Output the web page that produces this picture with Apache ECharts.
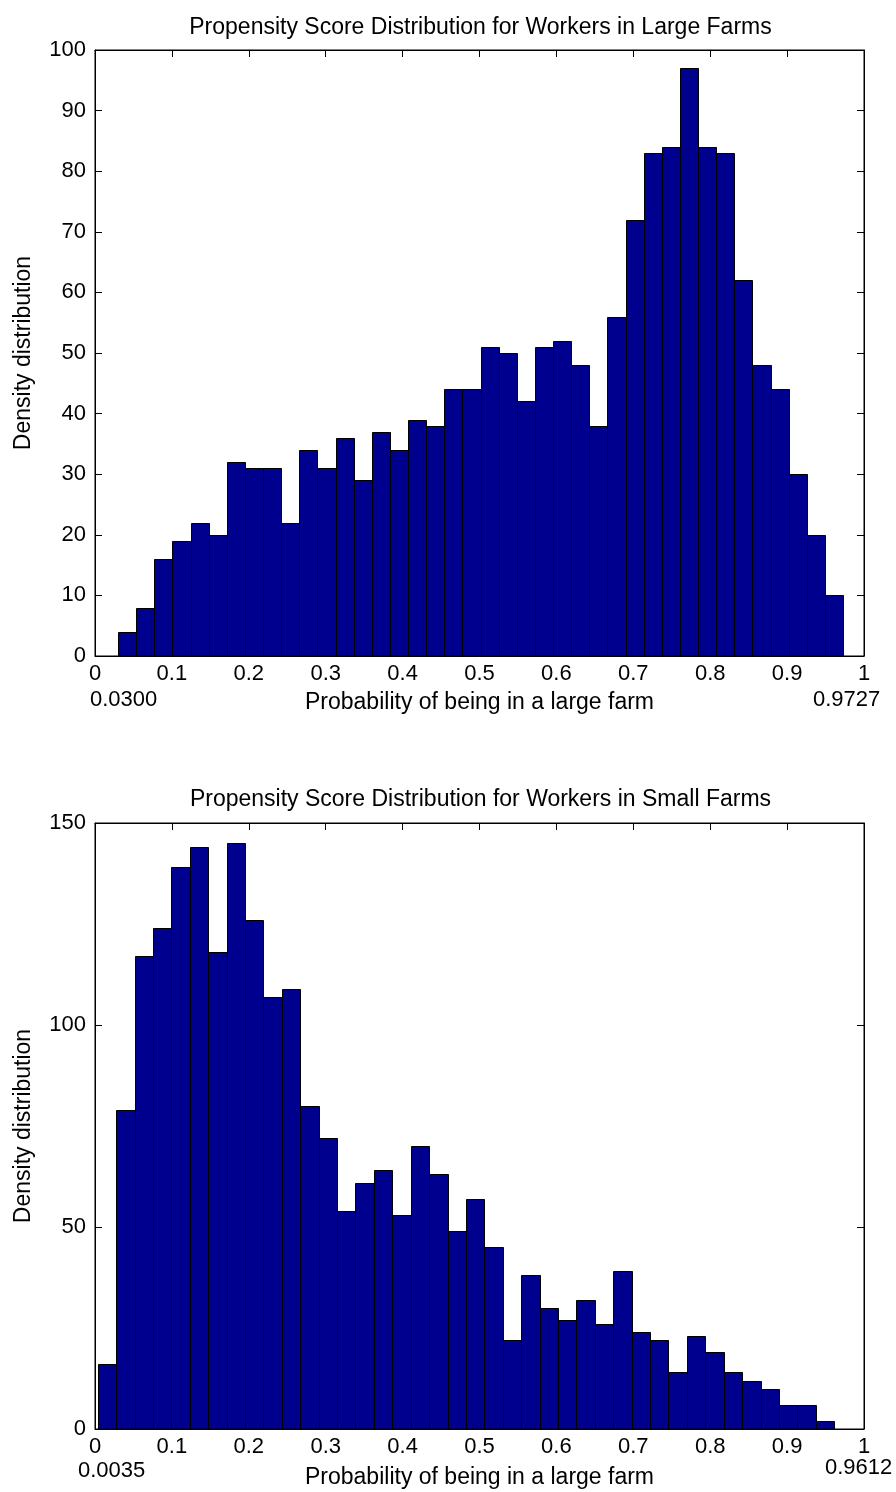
<!DOCTYPE html>
<html><head><meta charset="utf-8">
<script src="https://cdn.jsdelivr.net/npm/echarts@6/dist/echarts.min.js"></script>
<style>html,body{margin:0;padding:0;background:#fff}#c{width:896px;height:1492px}</style>
</head><body><div id="c"></div>
<script>
// ---- data ----
const largeTitle = 'Propensity Score Distribution for Workers in Large Farms';
const smallTitle = 'Propensity Score Distribution for Workers in Small Farms';
const xName = 'Probability of being in a large farm';
const yName = 'Density distribution';
const largeCounts = [4, 8, 16, 19, 22, 20, 32, 31, 31, 22, 34, 31, 36, 29, 37, 34, 39, 38, 44, 44,
                     51, 50, 42, 51, 52, 48, 38, 56, 72, 83, 84, 97, 84, 83, 62, 48, 44, 30, 20, 10];
const largeRange = [0.0300, 0.9727];
const largeRangeLabels = ['0.0300', '0.9727'];
const smallCounts = [16, 79, 117, 124, 139, 144, 118, 145, 126, 107, 109, 80, 72, 54, 61, 64, 53, 70, 63, 49,
                     57, 45, 22, 38, 30, 27, 32, 26, 39, 24, 22, 14, 23, 19, 14, 12, 10, 6, 6, 2];
const smallRange = [0.0035, 0.9612];
const smallRangeLabels = ['0.0035', '0.9612'];
const largeYMax = 100, largeYStep = 10;
const smallYMax = 150, smallYStep = 50;

// ---- build ----
function makeBins(counts, range) {
  const w = (range[1] - range[0]) / counts.length;
  return counts.map((c, i) => [range[0] + i * w, range[0] + (i + 1) * w, c]);
}
const FONT = "'Liberation Sans', Arial, sans-serif";
const FS = 22;      // tick labels
const FS2 = 23;     // titles and axis names
const TXT = '#000';

function renderBar(params, api) {
  const p0 = api.coord([api.value(0), api.value(2)]);
  const p1 = api.coord([api.value(1), 0]);
  const x0 = Math.round(p0[0]) + 0.5, x1 = Math.round(p1[0]) + 0.5;
  const y0 = Math.round(p0[1]) + 0.5, y1 = Math.round(p1[1]);
  return {
    type: 'rect',
    shape: { x: x0, y: y0, width: x1 - x0, height: y1 - y0 },
    style: { fill: '#00008F', stroke: '#000', lineWidth: 1 }
  };
}

const gridL = 95, gridW = 769, gridH = 606;
const grids = [
  { left: gridL, top: 50, width: gridW, height: gridH, show: true, borderColor: '#000', borderWidth: 1, backgroundColor: '#fff' },
  { left: gridL, top: 823, width: gridW, height: gridH, show: true, borderColor: '#000', borderWidth: 1, backgroundColor: '#fff' }
];
const tick = { show: true, inside: true, length: 7, lineStyle: { color: '#000', width: 1 } };
const line = { show: true, onZero: false, lineStyle: { color: '#000', width: 1 } };

function xAxes(gi, nameGap) {
  return [
    { type: 'value', gridIndex: gi, position: 'bottom', min: 0, max: 1, interval: 0.1,
      name: xName, nameLocation: 'middle', nameGap: nameGap,
      nameTextStyle: { fontFamily: FONT, fontSize: FS2, color: TXT },
      axisLine: line, axisTick: tick,
      axisLabel: { show: true, margin: 7, fontFamily: FONT, fontSize: FS, color: TXT, showMinLabel: true, showMaxLabel: true },
      splitLine: { show: false } },
    { type: 'value', gridIndex: gi, position: 'top', min: 0, max: 1, interval: 0.1,
      axisLine: line, axisTick: tick, axisLabel: { show: false }, splitLine: { show: false } }
  ];
}
function yAxes(gi, max, step) {
  return [
    { type: 'value', gridIndex: gi, position: 'left', min: 0, max: max, interval: step,
      name: yName, nameLocation: 'middle', nameGap: 60, nameRotate: 90,
      nameTextStyle: { fontFamily: FONT, fontSize: FS2, color: TXT },
      axisLine: line, axisTick: tick,
      axisLabel: { show: true, margin: 9, fontFamily: FONT, fontSize: FS, color: TXT, showMinLabel: true, showMaxLabel: true },
      splitLine: { show: false } },
    { type: 'value', gridIndex: gi, position: 'right', min: 0, max: max, interval: step,
      axisLine: line, axisTick: tick, axisLabel: { show: false }, splitLine: { show: false } }
  ];
}

const chart = echarts.init(document.getElementById('c'), null, { renderer: 'canvas' });
const option = {
  animation: false,
  backgroundColor: '#fff',
  title: [
    { text: largeTitle, left: gridL + gridW / 2 - 4, textAlign: 'center', top: 11,
      textStyle: { fontFamily: FONT, fontSize: FS2, fontWeight: 'normal', color: TXT } },
    { text: smallTitle, left: gridL + gridW / 2 - 4, textAlign: 'center', top: 783,
      textStyle: { fontFamily: FONT, fontSize: FS2, fontWeight: 'normal', color: TXT } }
  ],
  grid: grids,
  xAxis: [].concat(xAxes(0, 35), xAxes(1, 37)),
  yAxis: [].concat(yAxes(0, largeYMax, largeYStep), yAxes(1, smallYMax, smallYStep)),
  series: [
    { type: 'custom', xAxisIndex: 0, yAxisIndex: 0, renderItem: renderBar,
      encode: { x: [0, 1], y: 2 }, data: makeBins(largeCounts, largeRange), z: 3 },
    { type: 'custom', xAxisIndex: 2, yAxisIndex: 2, renderItem: renderBar,
      encode: { x: [0, 1], y: 2 }, data: makeBins(smallCounts, smallRange), z: 3 }
  ],
  graphic: [
    { type: 'text', left: 90, top: 689, style: { text: largeRangeLabels[0], font: FS + 'px ' + FONT, fill: TXT } },
    { type: 'text', left: 813, top: 689, style: { text: largeRangeLabels[1], font: FS + 'px ' + FONT, fill: TXT } },
    { type: 'text', left: 78, top: 1460, style: { text: smallRangeLabels[0], font: FS + 'px ' + FONT, fill: TXT } },
    { type: 'text', left: 825, top: 1457, style: { text: smallRangeLabels[1], font: FS + 'px ' + FONT, fill: TXT } }
  ]
};
chart.setOption(option);
</script>
</body></html>
